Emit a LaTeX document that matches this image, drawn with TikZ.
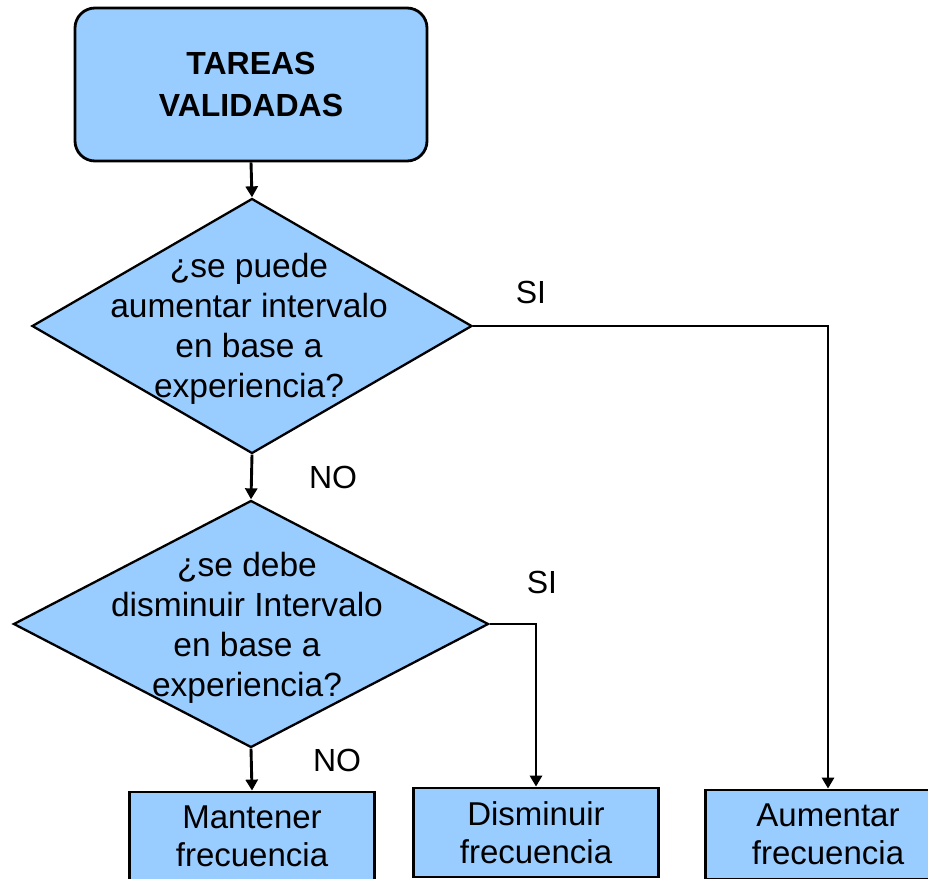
\documentclass[tikz,border=0pt]{standalone}
\usepackage{fontspec}
\setmainfont{Liberation Sans}
\usetikzlibrary{shapes.geometric,arrows.meta}
\definecolor{boxblue}{RGB}{153,204,255}

\begin{document}
\begin{tikzpicture}[x=1pt,y=-1pt,
  every node/.style={font=\fontsize{33}{40}\selectfont},
  startbox/.style={draw=black,line width=2.8pt,fill=boxblue,rounded corners=20pt,
    inner sep=0pt,minimum width=352pt,minimum height=153pt,align=center,
    font=\bfseries\fontsize{32}{42}\selectfont},
  decision/.style={diamond,draw=black,line width=2.3pt,fill=boxblue,inner sep=0pt},
  qtext/.style={align=center,inner sep=0pt,font=\fontsize{33.5}{40}\selectfont},
  flowbox/.style={draw=black,line width=2.8pt,fill=boxblue,inner sep=0pt,
    minimum width=245pt,minimum height=89pt,align=center,
    font=\fontsize{33}{38}\selectfont},
  lbl/.style={inner sep=0pt,font=\fontsize{32}{38}\selectfont},
  conn/.style={draw=black,line width=2.9pt,-{Triangle[width=12pt,length=11pt]}}
]
\useasboundingbox (0,0) rectangle (928,878);
\clip (0,0) rectangle (928,878);

% start block
\node[startbox] (start) at (251,84.5) {TAREAS\\VALIDADAS};

% first decision
\node[decision,minimum width=440pt,minimum height=255pt] (d1) at (252,326) {};
\node[qtext] (q1) at (249,329) {¿se puede\\aumentar intervalo\\en base a\\experiencia?};

% second decision
\node[decision,minimum width=475pt,minimum height=247pt] (d2) at (251,624) {};
\node[qtext] (q2) at (247,628) {¿se debe\\disminuir Intervalo\\en base a\\experiencia?};

% outcome blocks
\node[flowbox] (b1) at (252,836.5) {Mantener\\frecuencia};
\node[flowbox] (b2) at (536,832.5) {Disminuir\\frecuencia};
\node[flowbox] (b3) at (828,834.5) {Aumentar\\frecuencia};

% connectors
\draw[conn] (start.south) -- (d1.north);
\draw[conn] (d1.south) -- (d2.north);
\draw[conn] (d1.east) -| (b3.north);
\draw[conn] (d2.east) -| (b2.north);
\draw[conn] (d2.south) -- (b1.north);

% branch labels
\node[lbl] (si1) at (531,292) {SI};
\node[lbl] (no1) at (333,477) {NO};
\node[lbl] (si2) at (542,582) {SI};
\node[lbl] (no2) at (337,760) {NO};
\end{tikzpicture}
\end{document}
